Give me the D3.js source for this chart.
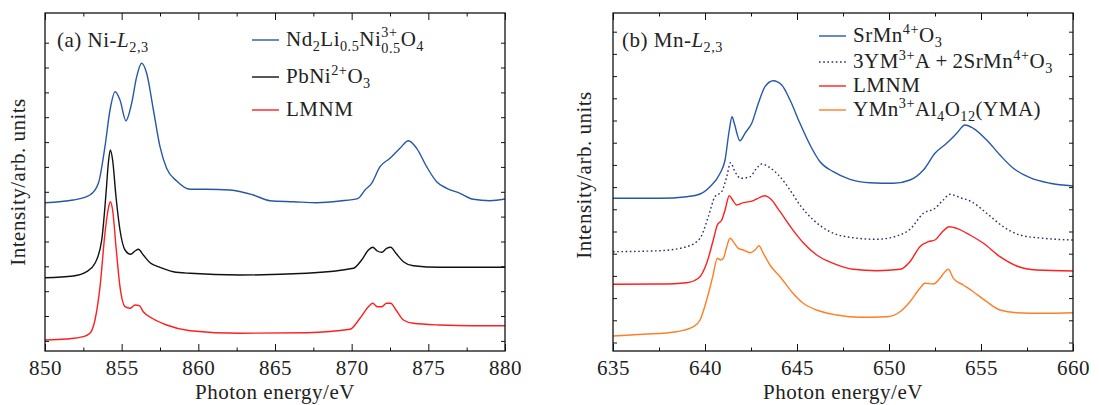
<!DOCTYPE html>
<html>
<head>
<meta charset="utf-8">
<script src="https://cdn.jsdelivr.net/npm/d3@7"></script>
<style>
  body { margin: 0; background: #fff; }
  svg { display: block; }
  text { font-family: "Liberation Serif", "DejaVu Serif", serif; fill: #222; letter-spacing: 0.5px; }
</style>
</head>
<body>
<svg id="chart" width="1099" height="405"></svg>
<script>
// ---- data (photon energy in eV, intensity in arb. units, curves offset as in the figure) ----
const niNd = [
  [850.0,148.3],[851.85,151],[852.93,156],[853.48,167.7],[853.91,204.3],[854.24,241],[854.57,259.3],
  [854.89,251],[855.28,230.3],[855.65,247.7],[855.98,274.3],[856.30,287.7],[856.63,277.7],[857.07,241],
  [857.50,204.3],[857.93,182.7],[858.59,170],[859.46,161.7],[860.54,161.7],[862.07,161],[863.59,156],
  [864.67,150.3],[866.20,149.3],[867.72,148.3],[869.24,150],[870.43,152.7],[870.87,161],[871.30,167.7],
  [871.85,184.3],[872.50,192.7],[873.15,202.7],[873.70,210.3],[874.24,202.7],[874.89,184.3],[875.54,169.3],
  [876.20,162.7],[877.07,157.7],[877.93,151.7],[879.02,150.3],[880.0,152]
];
const niPb = [
  [850.0,73.3],[851.85,75],[852.72,79.3],[853.26,87.7],[853.70,111],[853.98,157.7],[854.13,187.7],
  [854.26,201],[854.41,191],[854.63,154.3],[854.89,121],[855.22,101],[855.59,96.7],[855.87,100],
  [856.09,101.7],[856.41,96],[856.85,88.3],[857.50,83.7],[858.37,79.3],[859.46,77.7],[862.72,76],
  [867.07,77.7],[870.11,82.7],[870.65,91],[871.09,101],[871.37,103.7],[871.67,100],[871.96,98.7],
  [872.28,102.7],[872.54,103.7],[872.89,97.7],[873.37,89.3],[874.02,85.3],[875.76,83.7],[877.93,83.7],[880.0,83.7]
];
const niLmnm = [
  [850.0,11],[851.41,12],[852.50,14.3],[852.93,17.7],[853.26,31],[853.59,64.3],[853.91,117.7],
  [854.13,142.7],[854.26,149.3],[854.41,141],[854.63,104.3],[854.89,64.3],[855.22,44.3],[855.54,42.7],
  [855.87,46],[856.15,45.3],[856.41,39.3],[857.07,32],[857.93,26],[859.46,20.3],[862.72,17.7],
  [867.07,18.3],[869.89,21.7],[870.54,32.7],[871.09,44.3],[871.37,47.7],[871.67,44.3],[871.96,44.3],
  [872.28,47.7],[872.54,47.7],[872.89,41],[873.37,31],[874.02,27.7],[875.76,26],[877.93,25.3],[880.0,25.3]
];

const mnSr = [
  [635.0,152.7],[637.55,152.7],[639.0,154.3],[639.73,157],[640.27,164.3],[640.82,177.7],[641.09,191],
  [641.32,221],[641.47,234.3],[641.59,227.7],[641.90,210.3],[642.17,217.7],[642.54,227.7],[642.90,247.7],
  [643.26,264.3],[643.71,270.3],[644.17,266],[644.62,251],[645.16,227.7],[645.71,206],[646.25,189.3],
  [646.97,179.3],[647.88,171.7],[648.97,168.3],[650.24,167.7],[651.14,171],[651.87,181],[652.50,197.7],
  [653.13,207.7],[653.68,217.7],[654.13,226],[654.58,222.7],[655.31,211],[656.03,196],[656.76,182.7],
  [657.66,173.3],[658.75,167.7],[660.0,165]
];
const mnMix = [
  [635.0,99.3],[637.55,100.3],[639.0,104.3],[639.73,112.7],[640.18,134.3],[640.54,154.3],[640.91,159.3],
  [641.18,174.3],[641.39,188.3],[641.63,179.3],[641.94,172.7],[642.45,174.3],[642.81,182.7],[643.08,187],
  [643.44,184.3],[643.99,176],[644.62,161],[645.16,146],[645.89,131],[646.79,119.3],[647.88,113.7],
  [649.33,111.7],[650.42,115],[651.14,121.7],[651.87,137.7],[652.50,142.7],[652.95,151],[653.32,156.7],
  [653.86,153.3],[654.49,149.3],[655.31,137.7],[656.21,124.3],[657.12,116],[658.39,112.7],[660.0,111]
];
const mnLmnm = [
  [635.0,66.7],[637.55,67],[639.0,68.3],[639.64,72.7],[640.09,87.7],[640.45,111],[640.67,126],
  [640.91,131],[641.09,141],[641.32,155.3],[641.50,151],[641.72,146],[642.08,148.3],[642.63,150.3],
  [642.99,153.7],[643.26,155.3],[643.53,152.7],[644.08,139.3],[644.71,122.7],[645.34,108.3],[646.07,96],
  [646.97,87.7],[648.06,81.7],[649.33,80.3],[650.60,81.7],[651.14,89.3],[651.68,104.3],[652.14,109.3],
  [652.50,111],[652.86,118.3],[653.28,124.3],[653.68,122.7],[654.40,116],[655.13,107.7],[656.03,94.3],
  [656.94,85],[658.03,81],[660.0,80]
];
const mnYma = [
  [635.0,15],[636.65,16.7],[638.46,19.3],[639.37,24.3],[639.73,31],[640.09,51],[640.42,74.3],
  [640.67,92.7],[640.85,91],[641.0,92.7],[641.18,104.3],[641.36,112.7],[641.54,109.3],[641.81,102.7],
  [642.08,101],[642.45,98.3],[642.72,101],[642.93,105.3],[643.17,97.7],[643.53,86],[644.08,74.3],
  [644.71,59.3],[645.34,47.7],[646.07,41],[647.16,36],[648.42,33.7],[649.87,34.3],[650.60,39.3],
  [651.14,49.3],[651.68,62.7],[651.96,67.7],[652.41,67],[652.77,72.7],[653.04,79.3],[653.22,81.7],
  [653.50,72.7],[654.04,66],[654.58,59.3],[655.31,49.3],[656.03,41],[656.94,38.3],[658.39,37.7],[660.0,38.3]
];

const ticksA = [850, 855, 860, 865, 870, 875, 880];
const ticksB = [635, 640, 645, 650, 655, 660];
const yTicksA = [10.1, 35, 59.8, 84.7, 109.5, 134.4, 159.2, 184.1, 208.9, 233.8, 258.6, 283.5, 308.3];
const yTicksB = [8.5, 30.7, 52.9, 75.1, 97.3, 119.5, 141.7, 163.9, 186.1, 208.3, 230.5, 252.7, 274.9, 297.1, 319.3];

const seriesA = [
  {data: niNd, color: "#2658aa", dash: null,
   label: [{t:"Nd"},{t:"2",s:"sub"},{t:"Li"},{t:"0.5",s:"sub"},{t:"Ni"},{stack:["3+","0.5"]},{t:"O"},{t:"4",s:"sub"}]},
  {data: niPb, color: "#111", dash: null,
   label: [{t:"PbNi"},{t:"2+",s:"sup"},{t:"O"},{t:"3",s:"sub"}]},
  {data: niLmnm, color: "#ff1f1f", dash: null, label: [{t:"LMNM"}]}
];
const seriesB = [
  {data: mnSr, color: "#2658aa", dash: null,
   label: [{t:"SrMn"},{t:"4+",s:"sup"},{t:"O"},{t:"3",s:"sub"}]},
  {data: mnMix, color: "#2d2d6e", dash: "1.6,2.6",
   label: [{t:"3YM"},{t:"3+",s:"sup"},{t:"A\u2009+\u20092SrMn"},{t:"4+",s:"sup"},{t:"O"},{t:"3",s:"sub"}]},
  {data: mnLmnm, color: "#ff1f1f", dash: null, label: [{t:"LMNM"}]},
  {data: mnYma, color: "#ff7f27", dash: null,
   label: [{t:"YMn"},{t:"3+",s:"sup"},{t:"Al"},{t:"4",s:"sub"},{t:"O"},{t:"12",s:"sub"},{t:"(YMA)"}]}
];

const svg = d3.select("#chart");
const FS = 21;

// draws text with sub/superscripts, segment by segment
function richText(g, x, y, segs, size) {
  let cx = x;
  const small = size * 0.68;
  const put = (t, xx, yy, fs, italic) => {
    const el = g.append("text").attr("x", xx).attr("y", yy)
      .style("font-size", fs + "px").text(t);
    if (italic) el.style("font-style", "italic");
    return el.node().getComputedTextLength();
  };
  segs.forEach(sg => {
    if (sg.stack) {
      // sup over sub on the same spot
      const w1 = put(sg.stack[0], cx, y - 9.5, small);
      const w2 = put(sg.stack[1], cx, y + 7, small);
      cx += Math.max(w1, w2);
    } else if (sg.s === "sub") {
      cx += put(sg.t, cx, y + 5, small, sg.i);
    } else if (sg.s === "sup") {
      cx += put(sg.t, cx, y - 8, small, sg.i);
    } else {
      cx += put(sg.t, cx, y, size, sg.i);
    }
  });
}

function panel(opt) {
  const x = d3.scaleLinear().domain(opt.xDomain).range([opt.left, opt.left + 460]);
  const y = d3.scaleLinear().domain([0, 338]).range([351, 13]);
  const g = svg.append("g");

  const line = d3.line().x(d => x(d[0])).y(d => y(d[1])).curve(d3.curveMonotoneX);
  opt.series.forEach(s => {
    g.append("path").datum(s.data)
      .attr("d", line)
      .attr("fill", "none")
      .attr("stroke", s.color)
      .attr("stroke-width", 1.4)
      .attr("stroke-dasharray", s.dash);
  });

  const minor = d3.range(opt.xDomain[0] + 2.5, opt.xDomain[1], 5);

  // bottom axis
  const bot = g.append("g").attr("transform", `translate(0,351)`)
    .call(d3.axisBottom(x).tickValues(opt.ticks).tickSize(-7).tickPadding(9).tickFormat(d3.format("d")));
  bot.selectAll("text").style("font-size", FS + "px").attr("fill", "#222");
  g.append("g").attr("transform", `translate(0,351)`)
    .call(d3.axisBottom(x).tickValues(minor).tickSize(-3.5).tickFormat(""));
  // top axis
  g.append("g").attr("transform", `translate(0,13)`)
    .call(d3.axisTop(x).tickValues(opt.ticks).tickSize(-7).tickFormat(""));
  g.append("g").attr("transform", `translate(0,13)`)
    .call(d3.axisTop(x).tickValues(minor).tickSize(-3.5).tickFormat(""));
  // left/right
  g.append("g").attr("transform", `translate(${opt.left},0)`)
    .call(d3.axisLeft(y).tickValues(opt.yTicks).tickSize(-4).tickFormat(""));
  g.append("g").attr("transform", `translate(${opt.left + 460},0)`)
    .call(d3.axisRight(y).tickValues(opt.yTicks).tickSize(-4).tickFormat(""));
  g.selectAll(".domain").remove();
  g.selectAll(".tick line").attr("stroke", "#111").attr("stroke-width", 1);

  g.append("rect")
    .attr("x", opt.left).attr("y", 13).attr("width", 460).attr("height", 338)
    .attr("fill", "none").attr("stroke", "#111").attr("stroke-width", 1.3);

  // axis titles
  g.append("text")
    .attr("x", opt.left + 230).attr("y", 399)
    .attr("text-anchor", "middle")
    .style("font-size", FS + "px")
    .text("Photon energy/eV");
  g.append("text")
    .attr("transform", `translate(${opt.yTitleX},${opt.yTitleY}) rotate(-90)`)
    .attr("text-anchor", "middle")
    .style("font-size", FS + "px")
    .text("Intensity/arb. units");

  // panel tag
  richText(g, opt.tagX, 47, opt.tag, FS);

  // legend
  opt.series.forEach((s, i) => {
    const ly = opt.legY[i];
    g.append("line")
      .attr("x1", opt.legX).attr("x2", opt.legX + 27)
      .attr("y1", ly).attr("y2", ly)
      .attr("stroke", s.color).attr("stroke-width", 1.4)
      .attr("stroke-dasharray", s.dash);
    richText(g, opt.legX + 34, ly + 6, s.label, FS);
  });
}

panel({
  left: 45, xDomain: [850, 880], ticks: ticksA, yTicks: yTicksA, series: seriesA,
  yTitleX: 25, yTitleY: 182, tagX: 57,
  tag: [{t:"(a)  Ni-"},{t:"L",i:true},{t:"2,3",s:"sub"}],
  legX: 252, legY: [40, 77, 110]
});
panel({
  left: 613, xDomain: [635, 660], ticks: ticksB, yTicks: yTicksB, series: seriesB,
  yTitleX: 591, yTitleY: 175, tagX: 622,
  tag: [{t:"(b)  Mn-"},{t:"L",i:true},{t:"2,3",s:"sub"}],
  legX: 819, legY: [36, 62, 86, 110]
});
</script>
</body>
</html>
